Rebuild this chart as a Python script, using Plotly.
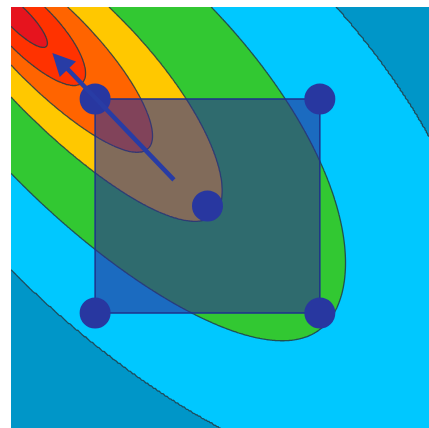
import numpy as np
import plotly.graph_objects as go

# Axis window (same number of data units per pixel on both axes)
x_range = [-1.836, 2.07]
y_range = [-2.075, 1.86]

# Sampling square: four corners plus the centre point
square_x = [-1.05, 1.05, 1.05, -1.05]
square_y = [1.0, 1.0, -1.0, -1.0]
centre_x = [0.0]
centre_y = [0.0]

# Step arrow: tail and head
arrow_tail = [-0.30, 0.23]
arrow_head = [-1.45, 1.43]

# Objective landscape. Each level set is an ellipse along the valley axis:
#   length a (level_radii), centre pushed down the valley by centre_shift * a,
#   half-width from level_widths (a bit wider on the upper side by skew).
optimum = [-1.874, 1.86]
axis_angle_deg = -45.0
centre_shift = 0.42
level_radii = [0.367, 0.702, 1.316, 1.93, 2.96, 4.1]
level_widths = [0.103, 0.24, 0.379, 0.617, 1.20, 1.93]
tail_power = 1.4
skew = 0.125
skew_scale = 0.75
band_colors = ["#e6141e", "#ff3200", "#ff6400", "#ffc800",
               "#32c832", "#00c8ff", "#0096c8"]

# ---- field on a grid ----
gx = np.linspace(x_range[0], x_range[1], 320)
gy = np.linspace(y_range[0], y_range[1], 320)
X, Y = np.meshgrid(gx, gy)
th = np.deg2rad(axis_angle_deg)
dx, dy = X - optimum[0], Y - optimum[1]
u = dx * np.cos(th) + dy * np.sin(th)
v = -dx * np.sin(th) + dy * np.cos(th)
v_eff = v / np.exp(skew * np.tanh(v / skew_scale))

# half-width as a function of ellipse length: log-log interpolation,
# power-law continuation beyond the first and last level
a_lo, a_hi = 1e-4, 80.0
log_a = np.log([a_lo] + level_radii + [a_hi])
log_w = np.log([level_widths[0] * (a_lo / level_radii[0]) ** tail_power]
               + level_widths
               + [level_widths[-1] * (a_hi / level_radii[-1]) ** tail_power])


def half_width(a):
    return np.exp(np.interp(np.log(a), log_a, log_w))


# length of the level-set ellipse through each grid point (bisection, log space)
lo = np.full(u.shape, a_lo)
hi = np.full(u.shape, a_hi)
for _ in range(64):
    mid = np.sqrt(lo * hi)
    f = ((u - centre_shift * mid) / mid) ** 2 + (v_eff / half_width(mid)) ** 2 - 1.0
    grow = f > 0
    lo = np.where(grow, mid, lo)
    hi = np.where(grow, hi, mid)
size = np.sqrt(lo * hi)

# map ellipse length onto band index so contour levels fall on level_radii
knots = [0.0] + level_radii + [a_hi]
z = np.interp(size, knots, np.arange(len(knots)))

n = len(band_colors) - 1
colorscale = [[i / n, c] for i, c in enumerate(band_colors)]

fig = go.Figure()
fig.add_trace(go.Contour(
    x=gx, y=gy, z=z,
    contours=dict(start=1, end=len(level_radii), size=1, coloring="fill"),
    colorscale=colorscale,
    showscale=False,
    line=dict(color="rgba(35,60,70,0.85)", width=1.3),
    hoverinfo="skip",
))

# sampling square
fig.add_trace(go.Scatter(
    x=square_x + [square_x[0]], y=square_y + [square_y[0]],
    mode="lines", fill="toself",
    fillcolor="rgba(45,45,150,0.6)",
    line=dict(color="rgb(30,50,140)", width=1.5),
    hoverinfo="skip", showlegend=False,
))

# sample points
fig.add_trace(go.Scatter(
    x=square_x + centre_x, y=square_y + centre_y,
    mode="markers",
    marker=dict(size=31, color="rgb(40,55,160)"),
    hoverinfo="skip", showlegend=False,
))

fig.add_annotation(
    x=arrow_head[0], y=arrow_head[1], ax=arrow_tail[0], ay=arrow_tail[1],
    xref="x", yref="y", axref="x", ayref="y",
    text="", showarrow=True, arrowhead=2, arrowsize=1.0, arrowwidth=4.5,
    arrowcolor="rgb(40,60,165)",
)

fig.update_xaxes(range=x_range, showgrid=False, zeroline=False,
                 showticklabels=False, ticks="", showline=False)
fig.update_yaxes(range=y_range, showgrid=False, zeroline=False,
                 showticklabels=False, ticks="", showline=False)
fig.update_layout(
    width=429, height=428, autosize=False,
    margin=dict(l=11, r=0, t=7, b=0, pad=0),
    paper_bgcolor="white", plot_bgcolor="white",
    showlegend=False,
)

fig.write_html("out.html")
